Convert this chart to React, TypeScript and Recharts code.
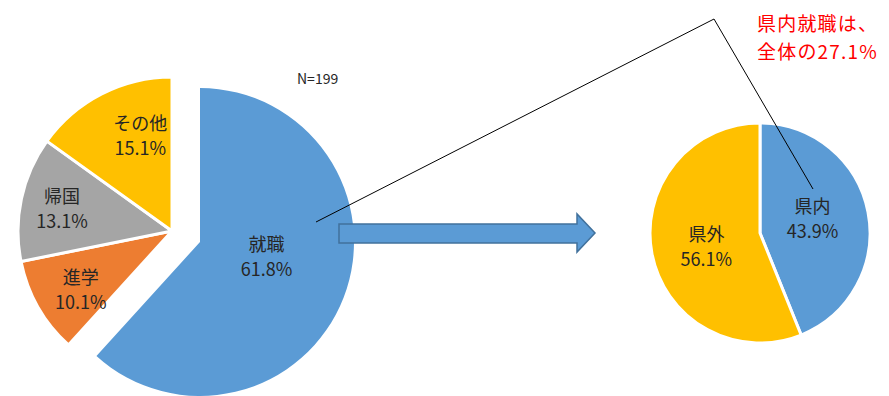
import { PieChart, Pie, Cell } from 'recharts';

const outcomeNames = ['就職', '進学', '帰国', 'その他'];
const outcomeShares = [61.8, 10.1, 13.1, 15.1];
const outcomeColors = ['#5B9BD5', '#ED7D31', '#A5A5A5', '#FFC000'];

const placeNames = ['県内', '県外'];
const placeShares = [43.9, 56.1];
const placeColors = ['#5B9BD5', '#FFC000'];

const sampleLabel = 'N=199';
const calloutLines = ['県内就職は、', '全体の27.1%'];

const outcomeData = outcomeNames.map((name, i) => ({ name, value: outcomeShares[i] }));
const placeData = placeNames.map((name, i) => ({ name, value: placeShares[i] }));

// where each label sits: fraction of radius, angle nudge (deg, ccw)
const labelPlace: Record<string, [number, number]> = {
  就職: [0.44, 10],
  進学: [0.7, 2.6],
  帰国: [0.73, 0],
  その他: [0.66, -9],
  県内: [0.5, 6],
  県外: [0.5, 2],
};

const RAD = Math.PI / 180;
const FONT = '"Noto Sans CJK JP", "Noto Sans", sans-serif';

function makeLabel(show: (i: number) => boolean) {
  return (props: any) => {
    const { cx, cy, midAngle, outerRadius, index, name, value } = props;
    if (!show(index)) return null;
    const [f, nudge] = labelPlace[name] ?? [0.6, 0];
    const a = (midAngle + nudge) * RAD;
    const x = cx + outerRadius * f * Math.cos(a);
    const y = cy - outerRadius * f * Math.sin(a);
    return (
      <text x={x} y={y} textAnchor="middle" fill="#262626" fontSize={18} fontFamily={FONT}>
        <tspan x={x} y={y - 12} dominantBaseline="central">{name}</tspan>
        <tspan x={x} y={y + 13} dominantBaseline="central">{`${value.toFixed(1)}%`}</tspan>
      </text>
    );
  };
}

export default function App() {
  const W = 889;
  const H = 396;
  return (
    <div style={{ position: 'absolute', left: 0, top: 0, width: W, height: H, background: '#fff' }}>
      <PieChart width={W} height={H} margin={{ top: 0, right: 0, bottom: 0, left: 0 }}>
        {/* exploded slice */}
        <Pie
          data={outcomeData}
          dataKey="value"
          cx={200}
          cy={242}
          outerRadius={154}
          startAngle={90}
          endAngle={-270}
          isAnimationActive={false}
          labelLine={false}
          label={makeLabel((i) => i === 0)}
        >
          {outcomeData.map((_, i) => (
            <Cell key={`a-${i}`} fill={i === 0 ? outcomeColors[i] : 'none'} stroke="none" />
          ))}
        </Pie>
        {/* the rest */}
        <Pie
          data={outcomeData}
          dataKey="value"
          cx={172}
          cy={231}
          outerRadius={154}
          startAngle={90}
          endAngle={-270}
          isAnimationActive={false}
          labelLine={false}
          label={makeLabel((i) => i !== 0)}
        >
          {outcomeData.map((_, i) => (
            <Cell
              key={`b-${i}`}
              fill={i === 0 ? 'none' : outcomeColors[i]}
              stroke={i === 0 ? 'none' : '#fff'}
              strokeWidth={3}
            />
          ))}
        </Pie>
        <Pie
          data={placeData}
          dataKey="value"
          cx={760}
          cy={233}
          outerRadius={110}
          startAngle={90}
          endAngle={-270}
          isAnimationActive={false}
          labelLine={false}
          label={makeLabel(() => true)}
        >
          {placeData.map((_, i) => (
            <Cell key={`c-${i}`} fill={placeColors[i]} stroke="#fff" strokeWidth={3} />
          ))}
        </Pie>
      </PieChart>

      <svg width={W} height={H} style={{ position: 'absolute', left: 0, top: 0, pointerEvents: 'none' }}>
        <polygon
          points="339,224 577,224 577,214 595,233 577,252 577,243 339,243"
          fill="#5B9BD5"
          stroke="#41719C"
          strokeWidth={1.5}
        />
        <polyline points="316,222 714,19 813,189" fill="none" stroke="#000" strokeWidth={1} />
        <text x={297} y={78} fontSize={14} fill="#262626" fontFamily={FONT} dominantBaseline="central">
          {sampleLabel}
        </text>
        <text x={757} y={22} fontSize={19} letterSpacing={1.2} fill="#FF0000" fontFamily={FONT} dominantBaseline="central">
          {calloutLines[0]}
        </text>
        <text x={757} y={50} fontSize={19} letterSpacing={1.2} fill="#FF0000" fontFamily={FONT} dominantBaseline="central">
          {calloutLines[1]}
        </text>
      </svg>
    </div>
  );
}
